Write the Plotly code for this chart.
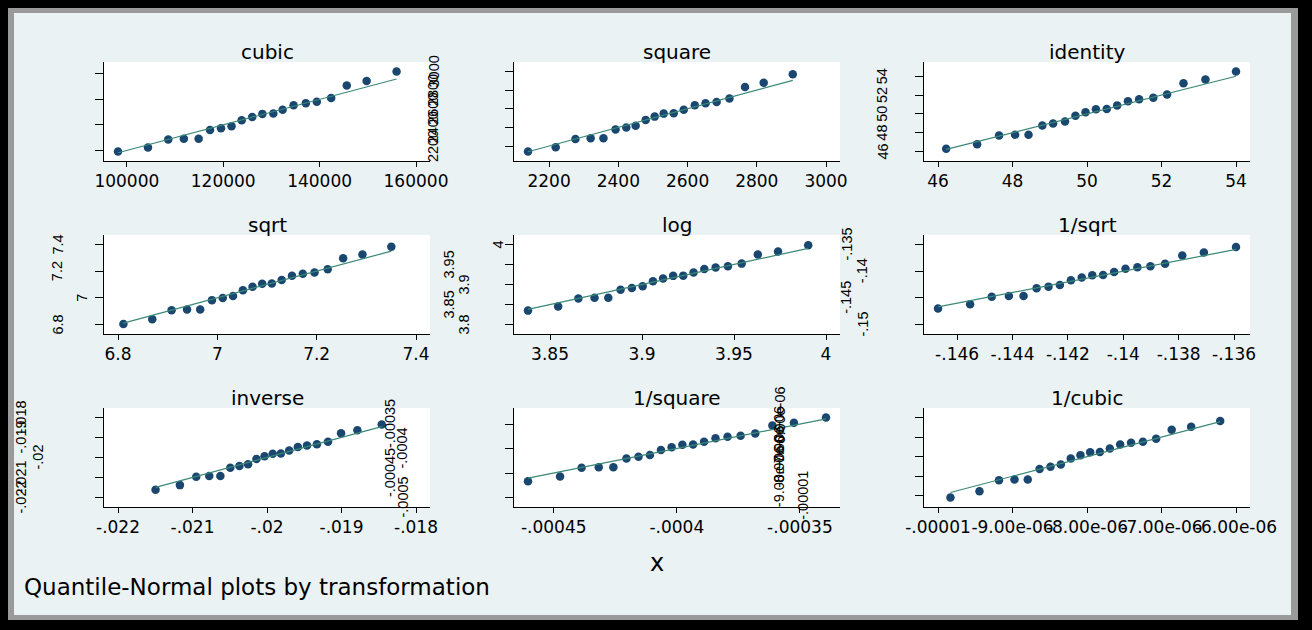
import plotly.graph_objects as go

W, H = 1312, 630

# ---------------- data ----------------
titles = ["cubic", "square", "identity", "sqrt", "log", "1/sqrt", "inverse", "1/square", "1/cubic"]

cubic_q = [98161, 104380, 108584, 111825, 114890, 117255, 119532, 121722, 123824, 126014,
           128116, 130394, 132321, 134598, 137138, 139416, 142394, 145635, 149752, 155970]
cubic_v = [99124, 102306, 108599, 109078, 109078, 115929, 117433, 118950, 123581, 126204,
           128635, 128864, 131872, 135401, 137069, 138188, 141014, 150909, 154509, 161879]

square_q = [2139, 2219, 2276, 2320, 2357, 2392, 2423, 2450, 2479, 2505,
            2531, 2560, 2589, 2621, 2652, 2684, 2721, 2766, 2820, 2904]
square_v = [2141.8, 2187.4, 2276.2, 2282.9, 2282.9, 2377.5, 2398.1, 2418.7, 2481.0, 2516.0,
            2548.2, 2551.3, 2590.8, 2636.8, 2658.4, 2672.9, 2709.2, 2834.5, 2879.4, 2970.3]

identity_q = [46.22, 47.05, 47.64, 48.07, 48.43, 48.80, 49.09, 49.41, 49.69, 49.96,
              50.24, 50.53, 50.81, 51.10, 51.40, 51.78, 52.15, 52.59, 53.18, 54.00]
identity_v = [46.28, 46.77, 47.71, 47.78, 47.78, 48.76, 48.97, 49.18, 49.81, 50.16,
              50.48, 50.51, 50.90, 51.35, 51.56, 51.70, 52.05, 53.24, 53.66, 54.50]

sqrt_q = [6.8109, 6.8690, 6.9079, 6.9390, 6.9655, 6.9891, 7.0109, 7.0316, 7.0515, 7.0709,
          7.0903, 7.1097, 7.1296, 7.1503, 7.1721, 7.1957, 7.2222, 7.2533, 7.2922, 7.3503]
sqrt_v = [6.8029, 6.8389, 6.9072, 6.9123, 6.9123, 6.9828, 6.9979, 7.0129, 7.0576, 7.0824,
          7.1049, 7.1070, 7.1344, 7.1659, 7.1805, 7.1903, 7.2146, 7.2966, 7.3253, 7.3824]

log_q = [3.83803, 3.85442, 3.86542, 3.87419, 3.88167, 3.88834, 3.89450, 3.90035, 3.90596, 3.91144,
         3.91692, 3.92240, 3.92801, 3.93386, 3.94002, 3.94669, 3.95417, 3.96294, 3.97394, 3.99033]
log_v = [3.83471, 3.84524, 3.86514, 3.86661, 3.86661, 3.88691, 3.89121, 3.89549, 3.90822, 3.91522,
         3.92158, 3.92217, 3.92986, 3.93867, 3.94275, 3.94546, 3.95221, 3.97481, 3.98267, 3.99820]

isqrt_q = [-0.14669, -0.14553, -0.14475, -0.14413, -0.14360, -0.14313, -0.14270, -0.14229, -0.14189, -0.14150,
           -0.14112, -0.14073, -0.14033, -0.13992, -0.13949, -0.13902, -0.13849, -0.13787, -0.13709, -0.13593]
isqrt_v = [-0.14700, -0.14622, -0.14478, -0.14467, -0.14467, -0.14321, -0.14290, -0.14260, -0.14169, -0.14120,
           -0.14075, -0.14071, -0.14017, -0.13955, -0.13927, -0.13908, -0.13861, -0.13705, -0.13651, -0.13546]

inverse_q = [-0.021496, -0.021169, -0.020950, -0.020775, -0.020626, -0.020493, -0.020370, -0.020254, -0.020142, -0.020033,
             -0.019923, -0.019814, -0.019702, -0.019586, -0.019463, -0.019330, -0.019181, -0.019006, -0.018787, -0.018460]
inverse_v = [-0.021608, -0.021381, -0.020960, -0.020929, -0.020929, -0.020509, -0.020421, -0.020333, -0.020076, -0.019936,
             -0.019810, -0.019798, -0.019646, -0.019474, -0.019395, -0.019342, -0.019212, -0.018783, -0.018636, -0.018349]

isquare_q = [-4.6046e-4, -4.4743e-4, -4.3869e-4, -4.3172e-4, -4.2577e-4, -4.2047e-4, -4.1557e-4, -4.1093e-4, -4.0646e-4, -4.0211e-4,
             -3.9775e-4, -3.9340e-4, -3.8893e-4, -3.8429e-4, -3.7939e-4, -3.7409e-4, -3.6814e-4, -3.6117e-4, -3.5243e-4, -3.3940e-4]
isquare_v = [-4.6691e-4, -4.5715e-4, -4.3932e-4, -4.3802e-4, -4.3802e-4, -4.2062e-4, -4.1702e-4, -4.1343e-4, -4.0305e-4, -3.9744e-4,
             -3.9244e-4, -3.9196e-4, -3.8597e-4, -3.7924e-4, -3.7617e-4, -3.7411e-4, -3.6910e-4, -3.5280e-4, -3.4730e-4, -3.3669e-4]

icubic_q = [-9.8328e-6, -9.4432e-6, -9.1816e-6, -8.9732e-6, -8.7952e-6, -8.6368e-6, -8.4903e-6, -8.3513e-6, -8.2179e-6, -8.0876e-6,
            -7.9574e-6, -7.8271e-6, -7.6937e-6, -7.5547e-6, -7.4082e-6, -7.2498e-6, -7.0718e-6, -6.8634e-6, -6.6019e-6, -6.2122e-6]
icubic_v = [-1.0089e-5, -9.7743e-6, -9.2081e-6, -9.1673e-6, -9.1673e-6, -8.6265e-6, -8.5160e-6, -8.4063e-6, -8.0916e-6, -7.9234e-6,
            -7.7742e-6, -7.7600e-6, -7.5828e-6, -7.3853e-6, -7.2958e-6, -7.2360e-6, -7.0911e-6, -6.6266e-6, -6.4723e-6, -6.1779e-6]

# tick values / labels
cubic_ticks = [100000, 120000, 140000, 160000]
cubic_labels = ["100000", "120000", "140000", "160000"]
square_ticks = [2200, 2400, 2600, 2800, 3000]
square_labels = ["2200", "2400", "2600", "2800", "3000"]
identity_ticks = [46, 48, 50, 52, 54]
identity_labels = ["46", "48", "50", "52", "54"]
sqrt_ticks = [6.8, 7.0, 7.2, 7.4]
sqrt_labels = ["6.8", "7", "7.2", "7.4"]
log_xticks = [3.85, 3.9, 3.95, 4.0]
log_xlabels = ["3.85", "3.9", "3.95", "4"]
log_yticks = [3.8, 3.85, 3.9, 3.95, 4.0]
log_ylabels = ["3.8", "3.85", "3.9", "3.95", "4"]
isqrt_xticks = [-0.146, -0.144, -0.142, -0.140, -0.138, -0.136]
isqrt_xlabels = ["-.146", "-.144", "-.142", "-.14", "-.138", "-.136"]
isqrt_yticks = [-0.150, -0.145, -0.140, -0.135]
isqrt_ylabels = ["-.15", "-.145", "-.14", "-.135"]
inverse_ticks = [-0.022, -0.021, -0.020, -0.019, -0.018]
inverse_labels = ["-.022", "-.021", "-.02", "-.019", "-.018"]
isquare_xticks = [-0.00045, -0.0004, -0.00035]
isquare_xlabels = ["-.00045", "-.0004", "-.00035"]
isquare_yticks = [-0.0005, -0.00045, -0.0004, -0.00035]
isquare_ylabels = ["-.0005", "-.00045", "-.0004", "-.00035"]
icubic_ticks = [-1e-5, -9e-6, -8e-6, -7e-6, -6e-6]
icubic_labels = ["-.00001", "-9.00e-06", "-8.00e-06", "-7.00e-06", "-6.00e-06"]

panels = [
    (cubic_q, cubic_v, cubic_ticks, cubic_labels, cubic_ticks, cubic_labels),
    (square_q, square_v, square_ticks, square_labels, square_ticks, square_labels),
    (identity_q, identity_v, identity_ticks, identity_labels, identity_ticks, identity_labels),
    (sqrt_q, sqrt_v, sqrt_ticks, sqrt_labels, sqrt_ticks, sqrt_labels),
    (log_q, log_v, log_xticks, log_xlabels, log_yticks, log_ylabels),
    (isqrt_q, isqrt_v, isqrt_xticks, isqrt_xlabels, isqrt_yticks, isqrt_ylabels),
    (inverse_q, inverse_v, inverse_ticks, inverse_labels, inverse_ticks, inverse_labels),
    (isquare_q, isquare_v, isquare_xticks, isquare_xlabels, isquare_yticks, isquare_ylabels),
    (icubic_q, icubic_v, icubic_ticks, icubic_labels, icubic_ticks, icubic_labels),
]

# ---------------- layout (pixel geometry) ----------------
COLS = [104, 514, 924]
ROWS = [62, 235, 408]
PW, PH = 326, 99
XPAD, YPAD = 14, 9.5

# horizontal pixel centre of each (rotated) y tick label, per panel; None = not drawn
ylab_px = [
    None,
    [433, 433, 433, 433, 433],
    [882, 882, 882, 882, 882],
    [57, 82, 57, 57],
    [463, 448, 463, 448, 497],
    [862, 846, 862, 846],
    [20, 20, 37, 20, 20],
    [402, 390, 402, 390],
    [803, 779, 779, 779, 779],
]

NAVY = "#1A476F"
LINEC = "#3A8878"
BG = "#EAF2F3"
FONT = "DejaVu Sans"


def axis_range(data, ticks, pad, span):
    lo = min(min(data), min(ticks))
    hi = max(max(data), max(ticks))
    d = (hi - lo) / (span - 2 * pad)
    return [lo - pad * d, hi + pad * d]


fig = go.Figure()
shapes = [
    dict(type="rect", xref="paper", yref="paper", x0=8 / W, x1=1298 / W, y0=1 - 620 / H, y1=1 - 8 / H,
         fillcolor="#9a9a9a", line=dict(width=0), layer="below"),
    dict(type="rect", xref="paper", yref="paper", x0=14 / W, x1=1291 / W, y0=1 - 615 / H, y1=1 - 13 / H,
         fillcolor=BG, line=dict(width=0), layer="below"),
]
annotations = []
layout_axes = {}

for i, (q, v, xt, xl, yt, yl) in enumerate(panels):
    n = "" if i == 0 else str(i + 1)
    col, row = i % 3, i // 3
    l, t = COLS[col], ROWS[row]
    xd = [l / W, (l + PW) / W]
    yd = [1 - (t + PH) / H, 1 - t / H]
    shapes.append(dict(type="rect", xref="paper", yref="paper", x0=xd[0], x1=xd[1], y0=yd[0], y1=yd[1],
                       fillcolor="white", line=dict(width=0), layer="below"))
    layout_axes["xaxis" + n] = dict(
        domain=xd, anchor="y" + n, range=axis_range(q, xt, XPAD, PW),
        tickmode="array", tickvals=xt, ticktext=xl, tickangle=0,
        ticks="outside", ticklen=5, tickcolor="black", tickwidth=1,
        showline=True, linecolor="black", linewidth=1,
        showgrid=False, zeroline=False,
        tickfont=dict(family=FONT, size=17, color="black"),
    )
    layout_axes["yaxis" + n] = dict(
        domain=yd, anchor="x" + n, range=axis_range(v, yt, YPAD, PH),
        tickmode="array", tickvals=yt, showticklabels=False,
        ticks="outside", ticklen=8, tickcolor="black", tickwidth=1,
        showline=True, linecolor="black", linewidth=1,
        showgrid=False, zeroline=False,
    )
    fig.add_trace(go.Scatter(x=q, y=v, mode="markers", xaxis="x" + n, yaxis="y" + n,
                             marker=dict(color=NAVY, size=8.5, line=dict(width=0)), showlegend=False))
    fig.add_trace(go.Scatter(x=[q[0], q[-1]], y=[q[0], q[-1]], mode="lines", xaxis="x" + n, yaxis="y" + n,
                             line=dict(color=LINEC, width=1.2), showlegend=False))
    annotations.append(dict(text=titles[i], xref="paper", yref="paper",
                            x=(l + PW / 2) / W, y=1 - (t - 10.5) / H,
                            xanchor="center", yanchor="middle", showarrow=False,
                            font=dict(family=FONT, size=20, color="black")))
    if ylab_px[i] is not None:
        for val, lab, px in zip(yt, yl, ylab_px[i]):
            annotations.append(dict(text=lab, xref="paper", yref="y" + n, x=px / W, y=val,
                                    xanchor="center", yanchor="middle", textangle=-90, showarrow=False,
                                    font=dict(family="Liberation Sans", size=14.5, color="black")))

annotations.append(dict(text="x", xref="paper", yref="paper", x=657 / W, y=1 - 563 / H,
                        xanchor="center", yanchor="middle", showarrow=False,
                        font=dict(family=FONT, size=24, color="black")))
annotations.append(dict(text="Quantile-Normal plots by transformation", xref="paper", yref="paper",
                        x=22 / W, y=1 - 587 / H, xanchor="left", yanchor="middle", showarrow=False,
                        font=dict(family=FONT, size=23, color="black")))

fig.update_layout(
    width=W, height=H,
    margin=dict(l=0, r=0, t=0, b=0, autoexpand=False),
    paper_bgcolor="black", plot_bgcolor="rgba(0,0,0,0)",
    shapes=shapes, annotations=annotations, showlegend=False,
    **layout_axes,
)

fig.write_html("out.html",
               config={"displayModeBar": False},
               post_script="document.body.style.margin='0';document.body.style.background='black';"
                           "document.body.style.overflow='hidden';")
